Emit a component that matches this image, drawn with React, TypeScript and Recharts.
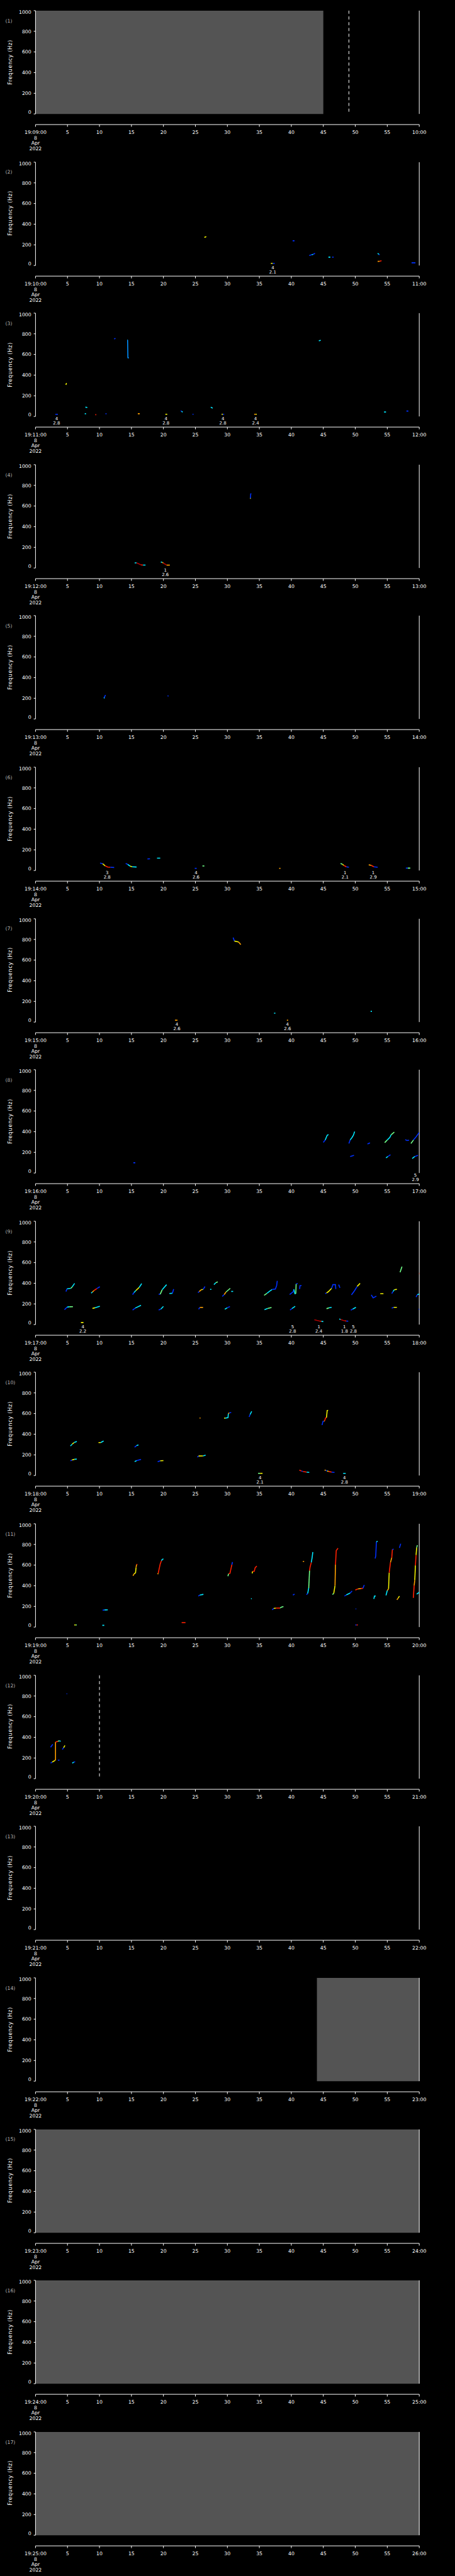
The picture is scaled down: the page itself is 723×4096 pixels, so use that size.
import React from "react";
import {
  ComposedChart,
  Line,
  Scatter,
  XAxis,
  YAxis,
  ReferenceArea,
  ReferenceLine,
} from "recharts";

const S = 0.705; // reference is 1024 wide, window 723
const W = 1024 * S;
const H = (5802 / 17) * S;
const FONT = "'DejaVu Sans', sans-serif";

// axes
const timeTicks = [0, 5, 10, 15, 20, 25, 30, 35, 40, 45, 50, 55, 60];
const minorTimeTicks = Array.from({ length: 61 }, (_, i) => i).filter((i) => i % 5 !== 0);
const freqTicks = [0, 200, 400, 600, 800, 1000];
const minorFreqTicks = Array.from({ length: 21 }, (_, i) => i * 50).filter((v) => v % 200 !== 0);
const hourLabel = "19";
const dateLines = ["8", "Apr", "2022"];
const panelStartMinutes = [9, 10, 11, 12, 13, 14, 15, 16, 17, 18, 19, 20, 21, 22, 23, 24, 25];

// intensity colour keys (jet)
const colors: Record<string, string> = {
  db: "#0000c0",
  b: "#0030ff",
  lb: "#0090ff",
  c: "#00e8ff",
  g: "#70ff88",
  y: "#f0f000",
  o: "#ffa000",
  r: "#ff2000",
  dr: "#b00000",
};

type Piece = [string, [number, number][]];

const tracks1: Piece[] = [];
const tracks2: Piece[] = [
  ["y", [[26.4, 272], [26.7, 280]]],
  ["b", [[40.2, 239], [40.5, 239]]],
  ["b", [[42.8, 97], [43.2, 104]]], ["c", [[43.2, 104], [43.4, 108]]], ["b", [[43.4, 108], [43.7, 118]]],
  ["c", [[45.8, 81], [46.1, 81]]], ["b", [[46.4, 81], [46.6, 81]]],
  ["c", [[53.5, 117], [53.7, 108]]], ["b", [[53.7, 108], [53.8, 102]]],
  ["o", [[53.5, 40], [53.8, 41]]], ["r", [[53.8, 41], [54.1, 47]]],
  ["y", [[36.8, 21], [37.1, 21]]], ["b", [[37.1, 21], [37.4, 21]]],
  ["b", [[58.8, 26], [59.4, 26]]],
];
const tracks3: Piece[] = [
  ["y", [[4.75, 305], [4.85, 323]]],
  ["b", [[12.3, 750], [12.5, 756]]],
  ["c", [[14.35, 741], [14.4, 741]]], ["lb", [[14.4, 741], [14.45, 568], [14.6, 566]]],
  ["c", [[7.8, 90], [8.1, 86]]],
  ["c", [[44.3, 732], [44.6, 738]]],
  ["b", [[3.1, 21], [3.5, 21]]],
  ["c", [[7.7, 26], [7.9, 26]]],
  ["r", [[9.35, 17], [9.5, 17]]],
  ["b", [[10.95, 26], [11.1, 26]]],
  ["o", [[16.0, 26], [16.3, 26]]],
  ["y", [[20.3, 21], [20.6, 21]]],
  ["b", [[22.7, 55], [22.85, 50]]], ["c", [[22.85, 50], [23.0, 41]]],
  ["b", [[24.55, 21], [24.7, 21]]],
  ["c", [[27.4, 90], [27.7, 80]]],
  ["y", [[29.1, 21], [29.3, 21]]], ["b", [[29.3, 21], [29.5, 21]]],
  ["o", [[34.2, 21], [34.45, 21]]], ["y", [[34.45, 21], [34.6, 21]]],
  ["c", [[54.5, 43], [54.8, 43]]],
  ["b", [[58.0, 52], [58.3, 52]]],
];
const tracks4: Piece[] = [
  ["c", [[15.5, 50], [15.8, 50]]], ["dr", [[15.8, 50], [16.2, 39], [16.5, 30]]], ["r", [[16.5, 30], [16.8, 28]]], ["c", [[16.8, 28], [17.2, 28]]],
  ["c", [[19.6, 58], [19.8, 55]]], ["o", [[19.8, 55], [20.0, 47]]], ["dr", [[20.0, 47], [20.3, 36], [20.5, 28]]], ["o", [[20.5, 28], [21.0, 28]]],
  ["b", [[33.6, 674], [33.65, 718], [33.75, 720]]], ["y", [[33.55, 674], [33.65, 674]]],
];
const tracks5: Piece[] = [
  ["b", [[10.7, 201], [10.8, 215], [10.95, 232]]], ["c", [[10.7, 201], [10.8, 205]]],
  ["b", [[20.65, 224], [20.8, 222]]],
];
const tracks6: Piece[] = [
  ["b", [[10.1, 73], [10.5, 65]]], ["y", [[10.5, 65], [10.9, 45]]], ["r", [[10.9, 45], [11.3, 33], [11.7, 31]]], ["b", [[11.7, 31], [12.3, 29]]],
  ["b", [[14.1, 68], [14.4, 60]]], ["c", [[14.4, 60], [14.8, 42]]], ["y", [[14.8, 42], [15.1, 36]]], ["c", [[15.1, 36], [15.8, 34]]],
  ["b", [[17.5, 112], [17.9, 114]]],
  ["c", [[19.0, 120], [19.5, 120]]],
  ["b", [[24.9, 21], [25.2, 21]]],
  ["g", [[26.1, 44], [26.4, 44]]],
  ["o", [[38.1, 21], [38.3, 21]]],
  ["g", [[47.7, 68], [48.0, 60]]], ["y", [[48.0, 60], [48.2, 50]]], ["r", [[48.2, 50], [48.6, 36]]], ["b", [[48.6, 36], [49.0, 31]]],
  ["o", [[52.1, 55], [52.5, 50]]], ["r", [[52.5, 50], [52.9, 36]]], ["b", [[52.9, 36], [53.5, 31]]],
  ["b", [[57.9, 23], [58.2, 23]]], ["g", [[58.2, 23], [58.6, 23]]],
];
const tracks7: Piece[] = [
  ["b", [[30.9, 818], [31.1, 784]]], ["y", [[31.1, 784], [31.75, 776]]], ["o", [[31.75, 776], [32.1, 750]]],
  ["o", [[21.8, 18], [22.2, 18]]],
  ["c", [[37.3, 86], [37.5, 86]]],
  ["o", [[39.3, 18], [39.5, 18]]],
  ["c", [[52.4, 104], [52.6, 104]]],
];
const tracks8: Piece[] = [
  ["b", [[15.3, 99], [15.6, 99]]],
  ["b", [[45.0, 297], [45.3, 320]]], ["c", [[45.3, 320], [45.6, 365], [45.8, 372]]],
  ["b", [[49.0, 286], [49.2, 320]]], ["c", [[49.2, 320], [49.5, 345], [49.7, 365], [49.9, 401]]],
  ["b", [[49.2, 159], [49.8, 172]]],
  ["b", [[51.9, 281], [52.3, 292]]],
  ["g", [[54.6, 294], [55.0, 320]]], ["c", [[55.0, 320], [55.4, 345], [55.6, 370]]], ["g", [[55.6, 370], [56.1, 396]]],
  ["c", [[54.8, 146], [55.1, 160]]], ["b", [[55.1, 160], [55.5, 177]]],
  ["b", [[57.8, 323], [58.1, 315], [58.4, 318]]],
  ["g", [[58.7, 286], [59.1, 320]]], ["b", [[59.1, 320], [59.5, 350], [60.0, 393]]],
  ["c", [[58.9, 140], [59.3, 160]]], ["b", [[59.3, 160], [59.8, 172]]],
];
const tracks9: Piece[] = [
  ["b", [[4.76, 320], [4.94, 347]]], ["c", [[4.94, 347], [5.53, 351]]], ["g", [[5.53, 351], [5.75, 366]]], ["c", [[5.75, 366], [6.12, 399]]],
  ["b", [[4.53, 144], [4.94, 169]]], ["c", [[4.94, 169], [5.3, 172]]], ["g", [[5.3, 172], [5.85, 173]]],
  ["c", [[8.7, 304], [8.9, 315]]], ["o", [[8.9, 315], [9.15, 330]]], ["r", [[9.15, 330], [9.6, 349]]], ["b", [[9.6, 349], [10.06, 366]]],
  ["y", [[8.9, 156], [9.3, 163]]], ["c", [[9.3, 163], [10.06, 177]]],
  ["y", [[7.1, 20], [7.5, 20]]],
  ["b", [[15.18, 290], [15.4, 310]]], ["c", [[15.4, 310], [15.7, 330]]], ["y", [[15.7, 330], [16.2, 359]]], ["c", [[16.2, 359], [16.6, 397]]],
  ["b", [[15.18, 140], [15.6, 160]]], ["c", [[15.6, 160], [16.5, 187]]],
  ["b", [[19.26, 294], [19.5, 294]]], ["g", [[19.5, 294], [19.8, 337]]], ["c", [[19.8, 337], [20.5, 387]]],
  ["c", [[20.93, 301], [21.4, 303]]], ["b", [[21.4, 303], [21.6, 344]]],
  ["b", [[19.26, 141], [19.6, 150]]], ["c", [[19.6, 150], [20.0, 176]]],
  ["b", [[25.4, 309], [25.6, 320]]], ["o", [[25.6, 320], [25.9, 337]]], ["y", [[25.9, 337], [26.2, 340]]], ["b", [[26.2, 340], [26.5, 369]]],
  ["c", [[27.3, 341], [27.5, 341]]],
  ["c", [[27.9, 387], [28.2, 406]]], ["g", [[28.2, 406], [28.5, 413]]],
  ["b", [[25.5, 149], [25.7, 166]]], ["o", [[25.7, 166], [26.2, 166]]],
  ["b", [[29.2, 273], [29.5, 290]]], ["o", [[29.5, 290], [29.8, 316]]], ["g", [[29.8, 316], [30.45, 351]]],
  ["c", [[30.6, 321], [30.9, 321]]],
  ["c", [[29.6, 149], [30.0, 163]]], ["b", [[30.0, 163], [30.4, 174]]],
  ["g", [[35.75, 283], [36.2, 303]]], ["c", [[36.2, 303], [36.6, 323], [37.0, 340]]], ["b", [[37.0, 340], [37.5, 344], [37.7, 377], [37.8, 423]]],
  ["c", [[35.8, 144], [36.3, 156]]], ["g", [[36.3, 156], [36.9, 166]]],
  ["b", [[39.74, 291], [40.3, 319], [40.4, 341]]], ["c", [[40.4, 341], [40.55, 299], [40.7, 299]]], ["g", [[40.7, 299], [40.75, 394]]], ["b", [[40.75, 394], [41.0, 397]]],
  ["b", [[41.3, 344], [41.35, 377], [41.6, 377]]],
  ["b", [[39.8, 140], [40.1, 156]]], ["c", [[40.1, 156], [40.6, 177]]],
  ["b", [[45.3, 299], [45.5, 306]]], ["y", [[45.5, 306], [45.8, 319], [46.3, 351]]], ["b", [[46.3, 351], [46.5, 387], [46.9, 387], [46.95, 344]]],
  ["b", [[47.4, 387], [47.6, 356]]],
  ["g", [[45.5, 154], [45.9, 162]]], ["c", [[45.9, 162], [46.3, 167]]],
  ["dr", [[43.6, 47], [44.0, 40], [44.5, 33]]], ["r", [[44.5, 33], [44.7, 31]]], ["c", [[44.7, 31], [45.0, 29]]],
  ["c", [[47.5, 54], [47.7, 50]]], ["dr", [[47.7, 50], [48.1, 40], [48.4, 36]]], ["r", [[48.4, 36], [48.6, 34]]], ["b", [[48.6, 34], [48.9, 33]]],
  ["b", [[49.4, 287], [49.9, 330], [50.3, 370]]], ["y", [[50.3, 370], [50.75, 399]]],
  ["b", [[49.3, 140], [49.6, 150]]], ["c", [[49.6, 150], [50.1, 167]]],
  ["b", [[52.5, 287], [52.8, 259], [53.3, 276]]],
  ["y", [[53.9, 299], [54.4, 299]]],
  ["b", [[55.7, 301], [55.9, 320]]], ["c", [[55.9, 320], [56.1, 337]]], ["y", [[56.1, 337], [56.5, 341]]],
  ["b", [[55.7, 159], [56.0, 167]]], ["y", [[56.0, 167], [56.5, 167]]],
  ["g", [[57.0, 506], [57.3, 561]]],
  ["b", [[59.5, 266], [59.7, 290]]], ["c", [[59.7, 290], [60.2, 299], [60.8, 313]]],
  ["b", [[59.9, 149], [60.6, 149]]],
  ["r", [[60.0, 487], [60.3, 530]]], ["y", [[60.3, 530], [60.5, 561]]], ["b", [[60.5, 561], [60.8, 594]]],
];
const tracks10: Piece[] = [
  ["c", [[5.46, 286], [5.74, 304]]], ["y", [[5.74, 304], [6.02, 319]]], ["c", [[6.02, 319], [6.46, 330]]],
  ["b", [[5.46, 143], [5.7, 150]]], ["y", [[5.7, 150], [6.1, 157]]], ["c", [[6.1, 157], [6.46, 159]]],
  ["y", [[9.85, 319], [10.2, 319]]], ["c", [[10.2, 319], [10.65, 334]]],
  ["b", [[15.5, 274], [15.8, 290]]], ["c", [[15.8, 290], [16.1, 296]]],
  ["c", [[15.5, 134], [15.8, 144]]], ["b", [[15.8, 144], [16.5, 156]]],
  ["b", [[19.1, 133], [19.5, 143]]], ["y", [[19.5, 143], [20.0, 144]]],
  ["b", [[25.3, 179], [25.5, 189]]], ["y", [[25.5, 189], [26.2, 190]]], ["c", [[26.2, 190], [26.6, 197]]],
  ["o", [[25.65, 557], [25.8, 557]]],
  ["y", [[29.5, 556], [29.7, 556]]], ["c", [[29.7, 556], [30.1, 561], [30.15, 599]]], ["o", [[30.15, 599], [30.3, 607]]], ["b", [[30.3, 607], [30.6, 610]]],
  ["b", [[33.4, 567], [33.55, 590]]], ["c", [[33.55, 590], [33.8, 621]]],
  ["g", [[34.8, 21], [35.1, 21]]], ["y", [[35.1, 21], [35.5, 21]]],
  ["r", [[41.25, 53], [41.6, 43]]], ["b", [[41.6, 43], [41.8, 39]]], ["r", [[41.8, 39], [42.4, 33]]], ["c", [[42.4, 33], [42.8, 30]]],
  ["b", [[44.8, 489], [44.95, 524], [45.1, 526]]], ["o", [[45.1, 526], [45.2, 529]]], ["r", [[45.2, 529], [45.35, 557], [45.5, 561]]], ["y", [[45.5, 561], [45.6, 629], [45.75, 631]]],
  ["o", [[45.2, 53], [45.4, 50]]], ["b", [[45.4, 50], [45.6, 44]]], ["y", [[45.6, 44], [45.8, 40]]], ["r", [[45.8, 40], [46.3, 33]]], ["b", [[46.3, 33], [46.75, 30]]],
  ["c", [[48.1, 21], [48.5, 21]]],
];
const tracks11: Piece[] = [
  ["y", [[6.06, 21], [6.3, 21]]], ["g", [[6.3, 21], [6.46, 21]]],
  ["b", [[10.5, 163], [10.8, 166]]], ["c", [[10.8, 166], [11.3, 167]]],
  ["c", [[10.45, 17], [10.75, 17]]],
  ["o", [[15.24, 497], [15.4, 514]]], ["y", [[15.4, 514], [15.64, 526], [15.72, 576]]], ["o", [[15.72, 576], [15.8, 604]]], ["r", [[15.8, 604], [15.92, 609]]],
  ["o", [[19.1, 511], [19.2, 523]]], ["r", [[19.2, 523], [19.3, 554], [19.5, 611], [19.7, 643]]], ["c", [[19.7, 643], [19.8, 654], [20.0, 661]]],
  ["r", [[22.85, 43], [23.45, 43]]],
  ["b", [[25.45, 300], [25.7, 310]]], ["c", [[25.7, 310], [26.25, 317]]],
  ["g", [[30.08, 493], [30.2, 517]]], ["r", [[30.2, 517], [30.4, 520], [30.6, 576], [30.7, 604]]], ["b", [[30.7, 604], [30.8, 630]]],
  ["y", [[33.87, 520], [33.95, 540]]], ["r", [[33.95, 540], [34.2, 540], [34.35, 576], [34.6, 591]]],
  ["c", [[33.7, 273], [33.8, 277]]],
  ["b", [[37.0, 167], [37.25, 181]]], ["y", [[37.25, 181], [37.6, 184]]], ["r", [[37.6, 184], [38.25, 184]]], ["g", [[38.25, 184], [38.45, 193], [38.77, 199]]],
  ["b", [[40.25, 310], [40.5, 319]]],
  ["o", [[41.8, 636], [42.0, 636]]],
  ["b", [[42.36, 314], [42.56, 326]]], ["c", [[42.56, 326], [42.72, 379]]], ["g", [[42.72, 379], [42.85, 547]]], ["r", [[42.85, 547], [42.92, 579], [43.12, 626]]], ["c", [[43.12, 626], [43.24, 669], [43.36, 726]]],
  ["g", [[46.43, 316], [46.63, 326]]], ["y", [[46.63, 326], [46.83, 401]]], ["o", [[46.83, 401], [46.9, 604]]], ["r", [[46.9, 604], [47.02, 740], [47.3, 764]]],
  ["b", [[48.3, 300], [48.6, 311]]], ["c", [[48.6, 311], [49.2, 330]]], ["b", [[49.2, 330], [49.5, 350]]],
  ["r", [[50.0, 359], [50.4, 369]]], ["o", [[50.4, 369], [50.9, 373]]], ["r", [[50.9, 373], [51.2, 376]]], ["b", [[51.2, 376], [51.4, 407]]],
  ["b", [[50.05, 176], [50.15, 176]]],
  ["b", [[50.0, 21], [50.2, 21]]], ["r", [[50.2, 21], [50.4, 21]]],
  ["c", [[52.9, 273], [53.0, 301], [53.2, 301]]],
  ["b", [[53.1, 664], [53.2, 690], [53.3, 826]]], ["c", [[53.3, 826], [53.5, 830]]],
  ["c", [[54.8, 307], [55.0, 354]]], ["o", [[55.0, 354], [55.2, 369]]], ["y", [[55.2, 369], [55.3, 526]]], ["r", [[55.3, 526], [55.5, 626]]], ["o", [[55.5, 626], [55.7, 671]]], ["r", [[55.7, 671], [55.8, 751]]], ["b", [[55.8, 751], [56.0, 754]]],
  ["o", [[56.5, 264], [56.7, 280]]], ["y", [[56.7, 280], [56.9, 300]]],
  ["b", [[56.9, 766], [57.1, 807]]],
  ["r", [[59.08, 283], [59.2, 404]]], ["o", [[59.2, 404], [59.3, 454]]], ["y", [[59.3, 454], [59.4, 597]]], ["r", [[59.4, 597], [59.5, 697]]], ["y", [[59.5, 697], [59.6, 769]]], ["g", [[59.6, 769], [59.7, 793]]],
  ["c", [[59.6, 319], [60.0, 337]]], ["o", [[60.0, 337], [60.5, 340]]], ["b", [[60.5, 340], [61.0, 404]]],
];
const tracks12: Piece[] = [
  ["b", [[2.36, 304], [2.7, 333]]],
  ["b", [[2.36, 150], [2.6, 160]]], ["y", [[2.6, 160], [3.04, 176]]], ["o", [[3.04, 176], [3.13, 183], [3.13, 354]]], ["r", [[3.13, 354], [3.5, 361]]], ["g", [[3.5, 361], [3.72, 366]]], ["c", [[3.72, 366], [3.94, 361]]],
  ["b", [[3.5, 179], [3.75, 179]]],
  ["b", [[4.2, 283], [4.4, 300]]], ["y", [[4.4, 300], [4.6, 321]]],
  ["b", [[4.85, 821], [4.95, 821]]],
  ["c", [[5.75, 150], [6.0, 160]]], ["b", [[6.0, 160], [6.2, 164]]],
];
const tracks13: Piece[] = [];
const tracks14: Piece[] = [];
const tracks15: Piece[] = [];
const tracks16: Piece[] = [];
const tracks17: Piece[] = [];

const panelTracks = [
  tracks1, tracks2, tracks3, tracks4, tracks5, tracks6, tracks7, tracks8, tracks9,
  tracks10, tracks11, tracks12, tracks13, tracks14, tracks15, tracks16, tracks17,
];

// detection notes under the plot: [time, class, score]
type Note = [number, string, string];
const panelNotes: Record<number, Note[]> = {
  2: [[37.1, "4", "2.1"]],
  3: [[3.3, "4", "2.8"], [20.4, "4", "2.8"], [29.3, "4", "2.8"], [34.4, "4", "2.4"]],
  4: [[20.3, "1", "2.6"]],
  6: [[11.2, "3", "2.8"], [25.1, "4", "2.6"], [48.4, "1", "2.1"], [52.8, "1", "2.9"]],
  7: [[22.1, "4", "2.6"], [39.4, "4", "2.6"]],
  8: [[59.4, "5", "2.9"]],
  9: [[7.4, "4", "2.2"], [40.2, "5", "2.8"], [44.3, "1", "2.4"], [48.3, "1", "1.8"], [49.7, "5", "2.8"]],
  10: [[35.1, "4", "2.1"], [48.3, "4", "2.8"]],
};

// no-data (grey) spans in seconds
const greyBlocks: Record<number, [number, number][]> = {
  1: [[0, 45]],
  14: [[44, 60]],
  15: [[0, 60]],
  16: [[0, 60]],
  17: [[0, 60]],
};

// event markers: [time, text]
const panelMarkers: Record<number, [number, string][]> = {
  1: [[49, "$ADRUN,3,*"]],
  12: [[10, "ADDET_OFF"]],
};
const markerLift: Record<number, number> = { 1: 5.5, 12: 14 };

const pad = (m: number) => String(m).padStart(2, "0");

function TimeTick(props: any) {
  const { x, y, payload, start } = props;
  const v = payload.value;
  let lines: string[];
  if (v === 0) lines = [`${hourLabel}:${pad(start)}:00`, ...dateLines];
  else if (v === 60) lines = [`${pad(start + 1)}:00`];
  else lines = [String(v)];
  return (
    <text x={x} y={y} textAnchor="middle" fill="#fff" fontSize={11 * S} fontFamily={FONT}>
      {lines.map((l, i) => (
        <tspan key={i} x={x} dy={i === 0 ? 16 * S : 12.3 * S}>
          {l}
        </tspan>
      ))}
    </text>
  );
}

function FreqTick(props: any) {
  const { x, y, payload } = props;
  const v = payload.value;
  const shift = v === 1000 ? 3.8 * S : v === 0 ? -4.4 * S : 0;
  return (
    <text x={x} y={y + shift} dy="0.36em" textAnchor="end" fill="#fff" fontSize={11 * S} fontFamily={FONT}>
      {v}
    </text>
  );
}

function NoteLabel(props: any) {
  const d = props.payload ?? props;
  const { cx, cy } = props;
  return (
    <text x={cx} y={cy} textAnchor="middle" fill="#fff" fontSize={10 * S} fontFamily={FONT}>
      <tspan x={cx} dy={8.6 * S}>{d.a}</tspan>
      <tspan x={cx} dy={10 * S}>{d.b}</tspan>
    </text>
  );
}

function Panel({ n }: { n: number }) {
  const start = panelStartMinutes[n - 1];
  const tracks = panelTracks[n - 1];
  const notes = (panelNotes[n] || []).map(([t, a, b]) => ({ t, f: 0, a, b }));
  const greys = greyBlocks[n] || [];
  const markers = panelMarkers[n] || [];
  const lift = markerLift[n] || 6;
  const markerData = markers.map(([t, text]) => ({ t, f: 1000, text }));

  return (
    <div style={{ position: "relative", width: W, height: H }}>
      <ComposedChart
        width={W}
        height={H}
        margin={{ top: 24 * S, left: 80 * S, right: W - 945 * S, bottom: H - 281 * S }}
      >
        <XAxis
          xAxisId="t"
          type="number"
          dataKey="t"
          domain={[0, 60]}
          allowDataOverflow
          ticks={timeTicks}
          interval={0}
          height={0.01}
          tickSize={5 * S}
          tickMargin={0}
          axisLine={{ stroke: "#fff", strokeWidth: 1 }}
          tickLine={{ stroke: "#fff" }}
          tick={(p: any) => <TimeTick {...p} start={start} />}
        />
        <XAxis
          xAxisId="tm"
          type="number"
          dataKey="t"
          domain={[0, 60]}
          allowDataOverflow
          ticks={minorTimeTicks}
          interval={0}
          height={0.01}
          tickSize={3 * S}
          axisLine={false}
          tickLine={{ stroke: "#fff" }}
          tick={false}
        />
        <YAxis
          yAxisId="f"
          type="number"
          domain={[-103, 1000]}
          allowDataOverflow
          ticks={freqTicks}
          interval={0}
          width={0.01}
          tickSize={4 * S}
          tickMargin={5.5 * S}
          axisLine={false}
          tickLine={{ stroke: "#fff" }}
          tick={(p: any) => <FreqTick {...p} />}
        />
        <YAxis
          yAxisId="fm"
          type="number"
          domain={[-103, 1000]}
          allowDataOverflow
          ticks={minorFreqTicks}
          interval={0}
          width={0.01}
          tickSize={2.5 * S}
          axisLine={false}
          tickLine={{ stroke: "#fff" }}
          tick={false}
        />
        <YAxis
          yAxisId="fr"
          orientation="right"
          type="number"
          domain={[-103, 1000]}
          allowDataOverflow
          ticks={freqTicks}
          interval={0}
          width={0.01}
          tickSize={4 * S}
          axisLine={false}
          tickLine={{ stroke: "#fff" }}
          tick={false}
        />
        <YAxis
          yAxisId="frm"
          orientation="right"
          type="number"
          domain={[-103, 1000]}
          allowDataOverflow
          ticks={minorFreqTicks}
          interval={0}
          width={0.01}
          tickSize={2.5 * S}
          axisLine={false}
          tickLine={{ stroke: "#fff" }}
          tick={false}
        />

        {greys.map(([a, b], i) => (
          <ReferenceArea
            key={`g${i}`}
            xAxisId="t"
            yAxisId="f"
            x1={a}
            x2={b}
            y1={0}
            y2={1000}
            fill="#545454"
            fillOpacity={1}
            stroke="none"
          />
        ))}

        <ReferenceLine
          xAxisId="t"
          yAxisId="f"
          segment={[{ x: 0, y: 0 }, { x: 0, y: 1000 }]}
          stroke="#fff"
          strokeWidth={1}
        />
        <ReferenceLine
          xAxisId="t"
          yAxisId="f"
          segment={[{ x: 60, y: 0 }, { x: 60, y: 1000 }]}
          stroke="#fff"
          strokeWidth={1}
        />

        {markers.map(([t], i) => (
          <ReferenceLine
            key={`m${i}`}
            xAxisId="t"
            yAxisId="f"
            segment={[{ x: t, y: 1000 }, { x: t, y: 0 }]}
            stroke="#fff"
            strokeWidth={1}
            strokeDasharray={`${7 * S} ${6 * S}`}
          />
        ))}

        {tracks.map(([k, pts], i) => (
          <Line
            key={`l${i}`}
            xAxisId="t"
            yAxisId="f"
            data={pts.map(([t, f]) => ({ t, f }))}
            dataKey="f"
            type="linear"
            stroke={colors[k]}
            strokeWidth={1.6}
            dot={false}
            activeDot={false}
            isAnimationActive={false}
          />
        ))}

        {notes.length > 0 && (
          <Scatter
            xAxisId="t"
            yAxisId="f"
            data={notes}
            dataKey="f"
            isAnimationActive={false}
            shape={(p: any) => <NoteLabel {...p} />}
          />
        )}
        {markerData.length > 0 && (
          <Scatter
            xAxisId="t"
            yAxisId="f"
            data={markerData}
            dataKey="f"
            isAnimationActive={false}
            shape={(p: any) => {
              const d = p.payload ?? p;
              return (
                <text
                  x={p.cx}
                  y={p.cy - lift * S}
                  textAnchor="middle"
                  fill="#fff"
                  fontSize={8.5 * S}
                  fontFamily={FONT}
                >
                  {d.text}
                </text>
              );
            }}
          />
        )}
      </ComposedChart>

      <div
        style={{
          position: "absolute",
          left: 12 * S,
          top: 48 * S,
          transform: "translateY(-50%)",
          color: "#b4b4b4",
          fontFamily: FONT,
          fontSize: 11 * S,
          lineHeight: 1,
          whiteSpace: "nowrap",
        }}
      >
        ({n})
      </div>
      <div
        style={{
          position: "absolute",
          left: 23 * S,
          top: 140 * S,
          transform: "translate(-50%, -50%) rotate(-90deg)",
          color: "#fff",
          fontFamily: FONT,
          fontSize: 12 * S,
          letterSpacing: 0.8 * S,
          lineHeight: 1,
          whiteSpace: "nowrap",
        }}
      >
        Frequency (Hz)
      </div>
    </div>
  );
}

export default function App() {
  return (
    <div style={{ width: W, background: "#000" }}>
      <style>{"body{margin:0;background:#000;}"}</style>
      {panelStartMinutes.map((_, i) => (
        <Panel key={i} n={i + 1} />
      ))}
    </div>
  );
}
